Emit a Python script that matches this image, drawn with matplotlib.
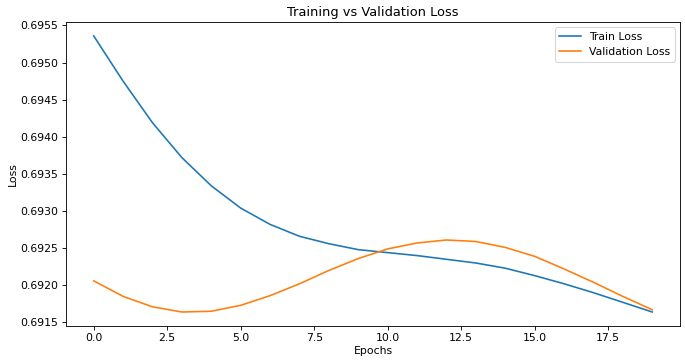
import matplotlib.pyplot as plt

# epoch-wise losses
epochs = list(range(20))
train_loss = [0.69536, 0.69475, 0.69419, 0.69372, 0.69334, 0.69304, 0.69282, 0.69266,
              0.69256, 0.69248, 0.69244, 0.69240, 0.69235, 0.69230, 0.69223, 0.69213,
              0.69202, 0.69190, 0.69177, 0.69164]
val_loss = [0.69206, 0.69185, 0.69171, 0.69164, 0.69165, 0.69173, 0.69186, 0.69202,
            0.69220, 0.69236, 0.69249, 0.69257, 0.69261, 0.69259, 0.69251, 0.69239,
            0.69222, 0.69204, 0.69185, 0.69167]

fig = plt.figure(figsize=(685 / 78, 362 / 78), dpi=78)
plt.plot(epochs, train_loss, label='Train Loss')
plt.plot(epochs, val_loss, label='Validation Loss')
plt.title('Training vs Validation Loss')
plt.xlabel('Epochs', labelpad=2)
plt.ylabel('Loss', labelpad=2)
plt.legend()
plt.subplots_adjust(left=0.096, right=0.993, top=0.939, bottom=0.10)
plt.savefig('out.png')
